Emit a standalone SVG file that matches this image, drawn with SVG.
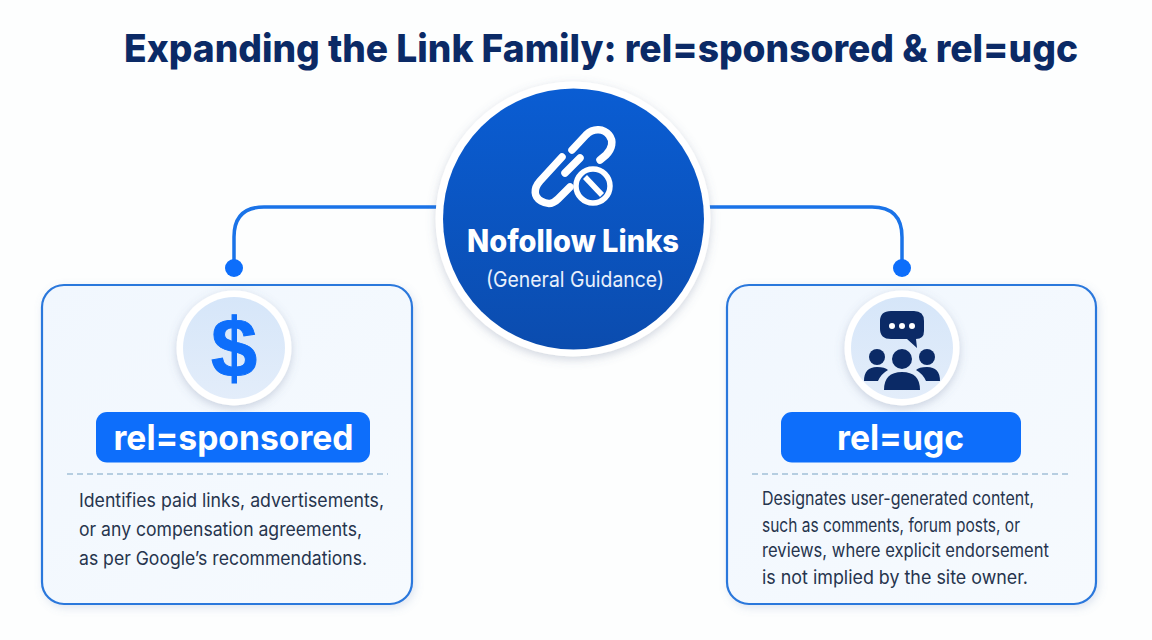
<svg xmlns="http://www.w3.org/2000/svg" width="1152" height="640" viewBox="0 0 1152 640">
<defs>
<linearGradient id="hub" x1="0" y1="0" x2="0" y2="1"><stop offset="0" stop-color="#0a5dd3"/><stop offset="1" stop-color="#0b4cae"/></linearGradient>
<linearGradient id="card" x1="0" y1="0" x2="1" y2="1"><stop offset="0" stop-color="#f1f7fe"/><stop offset="1" stop-color="#f6fafe"/></linearGradient>
<linearGradient id="badge" x1="0" y1="0" x2="0" y2="1"><stop offset="0" stop-color="#d6e6f9"/><stop offset="1" stop-color="#e3edfa"/></linearGradient>
<filter id="soft" x="-20%" y="-20%" width="140%" height="140%"><feDropShadow dx="0" dy="3" stdDeviation="5" flood-color="#5b6f90" flood-opacity=".28"/></filter>
<filter id="softc" x="-20%" y="-20%" width="140%" height="140%"><feDropShadow dx="2" dy="3" stdDeviation="4" flood-color="#6f8fc0" flood-opacity=".22"/></filter>
</defs>
<style>
text{font-family:Inter,"Liberation Sans",sans-serif}
.title{font-size:38.500px;font-weight:800;fill:#0b2a66}
.pilltxt{font-size:35px;font-weight:700;fill:#fff;text-anchor:middle}
.body{font-size:18.500px;fill:#26344d}
.card{fill:url(#card);stroke:#2b78dc;stroke-width:2.200;filter:url(#softc)}
.ring{fill:#fff;filter:url(#soft)}
.badge{fill:url(#badge)}
.pill{fill:#0d6efb}
.dash{stroke:#a3c0d8;stroke-width:1.500;stroke-dasharray:6 4;fill:none}
.conn{fill:none;stroke:#1a73e8;stroke-width:3.500}
.dot{fill:#0d6efb}
.ln{fill:none;stroke:#fff;stroke-linecap:round;stroke-linejoin:round}
.navy{fill:#0b2a66}
</style>
<rect width="1152" height="640" fill="#fdfefe"/>
<text class="title" x="124" y="62" textLength="954" lengthAdjust="spacingAndGlyphs">Expanding the Link Family: rel=sponsored &amp; rel=ugc</text>
<g id="connectors">
<path class="conn" d="M437 207H264Q234 207 234 237V268"/>
<path class="conn" d="M709 207H872Q902 207 902 237V268"/>
<circle class="dot" cx="234" cy="268" r="9"/>
<circle class="dot" cx="902" cy="268" r="9"/>
</g>
<g id="node-sponsored">
<rect class="card" x="42" y="285" width="370" height="319" rx="22"/>
<circle class="ring" cx="234" cy="348" r="57.500"/>
<circle class="badge" cx="234" cy="348" r="51"/>
<text x="234" y="377" font-size="83" font-weight="700" fill="#0d6efb" text-anchor="middle" stroke="#0d6efb" stroke-width="1" style="font-family:'Liberation Sans',sans-serif">$</text>
<rect class="pill" x="96" y="412" width="274" height="50.500" rx="11"/>
<text class="pilltxt" x="233.500" y="450" textLength="240" lengthAdjust="spacingAndGlyphs">rel=sponsored</text>
<line class="dash" x1="67" y1="474" x2="388" y2="474"/>
<text class="body" x="79" y="507" textLength="305" lengthAdjust="spacingAndGlyphs">Identifies paid links, advertisements,</text>
<text class="body" x="79" y="536" textLength="283" lengthAdjust="spacingAndGlyphs">or any compensation agreements,</text>
<text class="body" x="79" y="565" textLength="288" lengthAdjust="spacingAndGlyphs">as per Google’s recommendations.</text>
</g>
<g id="node-ugc">
<rect class="card" x="727" y="285" width="369" height="319" rx="22"/>
<circle class="ring" cx="902" cy="348" r="57.500"/>
<circle class="badge" cx="902" cy="348" r="51"/>
<path class="navy" d="M891 311H914Q924 311 924 321V331Q924 339 916 339L917 348L907 339H891Q880 339 880 329V321Q880 311 891 311Z"/>
<circle cx="892" cy="326" r="3" fill="#fff"/><circle cx="902" cy="326" r="3" fill="#fff"/><circle cx="912" cy="326" r="3" fill="#fff"/>
<circle class="navy" cx="877" cy="357" r="8"/><circle class="navy" cx="927" cy="357" r="8"/><circle class="navy" cx="902" cy="359" r="10"/>
<path class="navy" d="M864 381Q864 367 877 367Q885 367 888 370Q881 374 878 381Z"/>
<path class="navy" d="M940 381Q940 367 927 367Q919 367 916 370Q923 374 926 381Z"/>
<path class="navy" d="M884 390Q884 372 902 372Q920 372 920 390Z"/>
<rect class="pill" x="781" y="412" width="240" height="50.500" rx="11"/>
<text class="pilltxt" x="900.500" y="450" textLength="127" lengthAdjust="spacingAndGlyphs">rel=ugc</text>
<line class="dash" x1="752" y1="474" x2="1070" y2="474"/>
<text class="body" x="762" y="505" textLength="272" lengthAdjust="spacingAndGlyphs">Designates user-generated content,</text>
<text class="body" x="762" y="532" textLength="258" lengthAdjust="spacingAndGlyphs">such as comments, forum posts, or</text>
<text class="body" x="762" y="557" textLength="287" lengthAdjust="spacingAndGlyphs">reviews, where explicit endorsement</text>
<text class="body" x="762" y="584" textLength="266" lengthAdjust="spacingAndGlyphs">is not implied by the site owner.</text>
</g>
<g id="node-nofollow">
<circle cx="573" cy="219" r="137.500" fill="#fff" filter="url(#soft)"/>
<circle cx="573.500" cy="219" r="130.500" fill="url(#hub)"/>
<g class="ln" stroke-width="7.500">
<path d="M572 150L586 135C594 127 604 129 609 135C614 141 612 149 606 155L600 160"/>
<path d="M565 173L580 158"/>
<path d="M562 157L540 181C533 189 534 197 541 201C548 205 553 204 558 199L570 187"/>
</g>
<circle cx="593" cy="186" r="17" fill="#0b59c9" stroke="#fff" stroke-width="5.500"/>
<line x1="585" y1="177" x2="602" y2="195" stroke="#fff" stroke-width="5.500"/>
<text x="573" y="252" font-size="31" font-weight="800" fill="#fff" text-anchor="middle" textLength="212" lengthAdjust="spacingAndGlyphs">Nofollow Links</text>
<text x="575" y="287" font-size="21.500" fill="#e8f0fc" text-anchor="middle" textLength="178" lengthAdjust="spacingAndGlyphs">(General Guidance)</text>
</g>
</svg>
